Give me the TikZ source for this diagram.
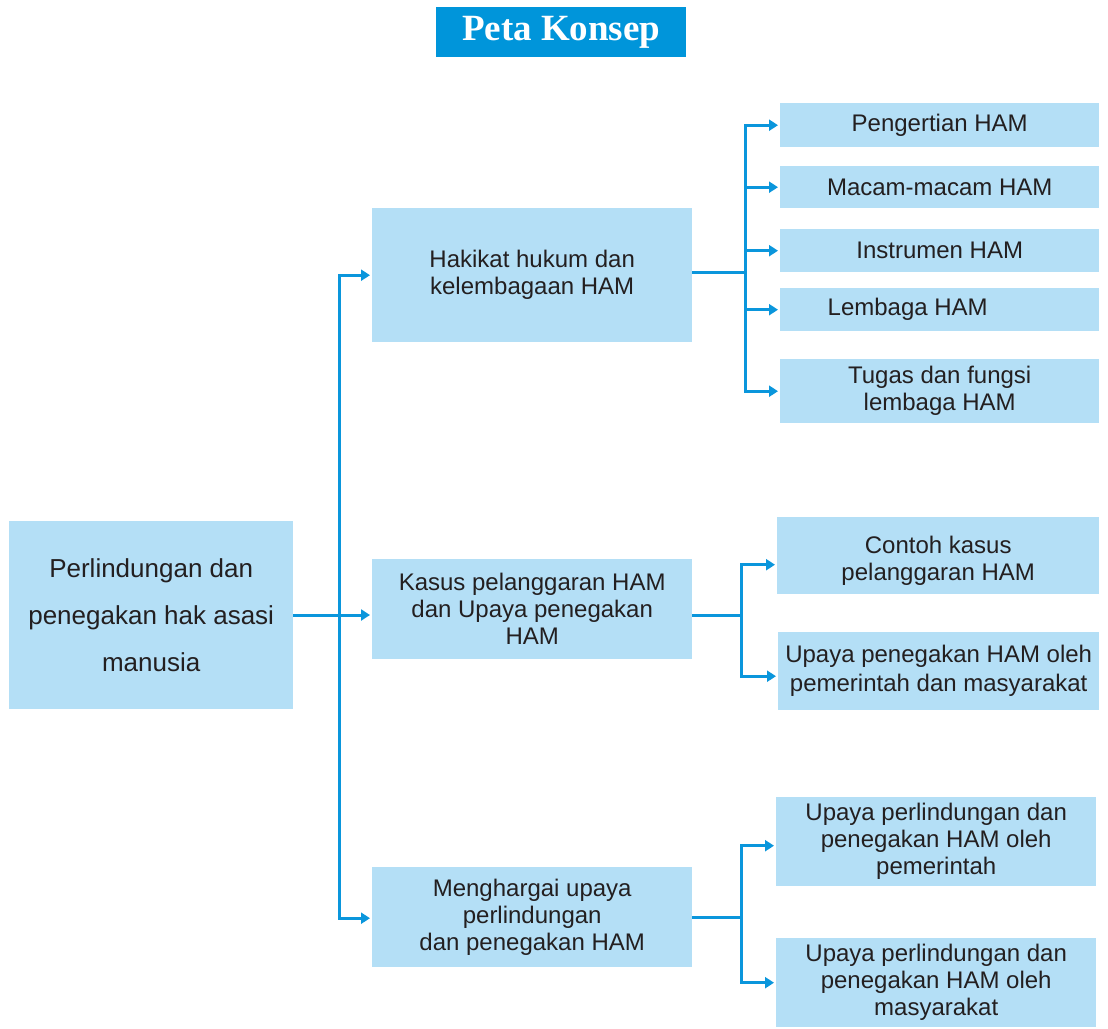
\documentclass[tikz,border=0pt]{standalone}
\usepackage{fontspec}
\setmainfont{Liberation Sans}
\newfontfamily\titlefont{Liberation Serif}
\usetikzlibrary{arrows.meta}
\definecolor{linkblue}{HTML}{0A96DC}
\definecolor{boxblue}{HTML}{B4DFF6}
\definecolor{titleblue}{HTML}{0095DA}
\definecolor{inkdark}{HTML}{231F20}
\tikzset{
  box/.style={fill=boxblue, draw=none, inner sep=0pt, align=center, text=inkdark,
    font=\fontsize{24}{27}\selectfont, anchor=north west},
  label text/.style={inner sep=0pt, align=center, text=inkdark, font=\fontsize{24}{27}\selectfont},
  link/.style={draw=linkblue, line width=3pt},
  arrowlink/.style={link, -{Triangle[length=9pt,width=11pt]}, shorten >=2pt},
}
\begin{document}
\begin{tikzpicture}[x=1pt,y=-1pt]
\useasboundingbox (0,0) rectangle (1108,1028);

% title
\node[fill=titleblue, text=white, inner sep=0pt, minimum width=250pt, minimum height=50pt,
  anchor=north west, font=\titlefont\bfseries\fontsize{37}{40}\selectfont] (title) at (436,7) {Peta Konsep};

% root
\node[box, minimum width=284pt, minimum height=188pt, font=\fontsize{26}{47}\selectfont] (main) at (9,521)
  {Perlindungan dan\\penegakan hak asasi\\manusia};

% second level
\node[box, minimum width=320pt, minimum height=134pt] (b1) at (372,208) {Hakikat hukum dan\\kelembagaan HAM};
\node[box, minimum width=320pt, minimum height=100pt] (b2) at (372,559) {Kasus pelanggaran HAM\\dan Upaya penegakan\\HAM};
\node[box, minimum width=320pt, minimum height=100pt] (b3) at (372,867) {Menghargai upaya\\perlindungan\\dan penegakan HAM};

% third level
\node[box, minimum width=319pt, minimum height=44pt] (r1) at (780,103) {Pengertian HAM};
\node[box, minimum width=319pt, minimum height=42pt] (r2) at (780,166) {Macam-macam HAM};
\node[box, minimum width=319pt, minimum height=43pt] (r3) at (780,229) {Instrumen HAM};
\node[box, minimum width=319pt, minimum height=43pt] (r4) at (780,288) {\hspace*{-64pt}Lembaga HAM};
\node[box, minimum width=319pt, minimum height=64pt] (r5) at (780,359) {Tugas dan fungsi\\lembaga HAM};
\node[box, minimum width=322pt, minimum height=77pt] (r6) at (777,517) {};
\node[label text] (r6text) at ([yshift=-5pt]r6.center) {Contoh kasus\\pelanggaran HAM};
\node[box, minimum width=321pt, minimum height=78pt, font=\fontsize{24}{29}\selectfont] (r7) at (778,632) {Upaya penegakan HAM oleh\\pemerintah dan masyarakat};
\node[box, minimum width=320pt, minimum height=89pt] (r8) at (776,797) {Upaya perlindungan dan\\penegakan HAM oleh\\pemerintah};
\node[box, minimum width=320pt, minimum height=89pt] (r9) at (776,938) {Upaya perlindungan dan\\penegakan HAM oleh\\masyarakat};

% root to second level
\coordinate (j0) at (339,615);
\draw[link] (main.east |- j0) -- (j0);
\draw[arrowlink] (j0) |- (b1.west);
\draw[arrowlink] (j0) -- (b2.west |- j0);
\draw[arrowlink] (j0) |- ([yshift=-1pt]b3.west);

% first branch
\coordinate (j1) at (745,272);
\draw[link] (b1.east |- j1) -- (j1);
\draw[arrowlink] (j1) |- (r1.west);
\draw[arrowlink] (j1) |- (r2.west);
\draw[arrowlink] (j1) |- (r3.west);
\draw[arrowlink] (j1) |- (r4.west);
\draw[arrowlink] (j1) |- (r5.west);

% second branch
\coordinate (j2) at (741,615);
\draw[link] (b2.east |- j2) -- (j2);
\draw[arrowlink] (j2) |- ([yshift=-9pt]r6.west);
\draw[arrowlink] (j2) |- ([yshift=-5pt]r7.west);

% third branch
\coordinate (j3) at (741,917);
\draw[link] (b3.east |- j3) -- (j3);
\draw[arrowlink] (j3) |- ([yshift=-4pt]r8.west);
\draw[arrowlink] (j3) |- (r9.west);
\end{tikzpicture}
\end{document}
